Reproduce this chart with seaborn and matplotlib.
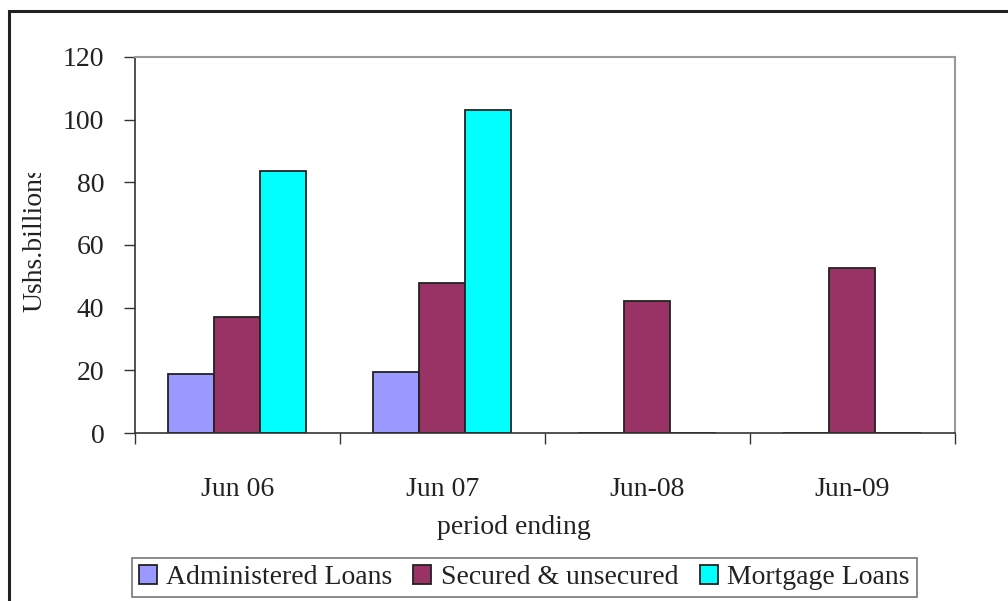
import matplotlib
matplotlib.use("Agg")
import matplotlib.pyplot as plt
from matplotlib.patches import Rectangle
from matplotlib.ticker import FixedLocator
from matplotlib.transforms import Bbox
import seaborn as sns
import pandas as pd

# Loan portfolio by period (Ushs billions)
periods = ["Jun 06", "Jun 07", "Jun-08", "Jun-09"]
series_names = ["Administered Loans", "Secured & unsecured", "Mortgage Loans"]
administered = [18.8, 19.5, 0, 0]
secured = [37.0, 47.9, 42.1, 52.7]
mortgage = [83.6, 103.1, 0, 0]
colors = ["#9999FF", "#993366", "#00FFFF"]
y_ticks = [0, 20, 40, 60, 80, 100, 120]

df = pd.DataFrame({
    "period": periods * 3,
    "series": [series_names[0]] * 4 + [series_names[1]] * 4 + [series_names[2]] * 4,
    "value": administered + secured + mortgage,
})

sns.set_theme(style="white")
plt.rcParams["font.family"] = ["Liberation Serif", "DejaVu Serif"]
plt.rcParams["text.color"] = "#222222"

FS = 20

fig = plt.figure(figsize=(10.08, 6.01), dpi=100)
ax = fig.add_axes([0.1339, 0.2795, 0.8135, 0.6257])

sns.barplot(data=df, x="period", y="value", hue="series", order=periods,
            hue_order=series_names, palette=colors, width=0.673, gap=0,
            edgecolor="#222222", linewidth=1.3, saturation=1, ax=ax, legend=True)

ax.set_ylim(0, 120)
ax.set_xlim(-0.5, 3.5)
ax.set_yticks(y_ticks)
ax.set_yticklabels([str(t) for t in y_ticks])
ax.tick_params(axis="y", which="major", direction="out", length=8, width=1,
               color="#333333", pad=14, labelsize=FS, labelcolor="#222222", left=True)
ax.set_xticks(range(len(periods)))
ax.set_xticklabels(periods)
ax.tick_params(axis="x", which="major", length=0, pad=32, labelsize=FS,
               labelcolor="#222222")
ax.xaxis.set_minor_locator(FixedLocator([-0.5, 0.5, 1.5, 2.5, 3.5]))
ax.tick_params(axis="x", which="minor", direction="out", length=8, width=1,
               color="#333333", bottom=True)

ax.set_xlabel("period ending", fontsize=FS, color="#222222", va="center")
ax.xaxis.set_label_coords(0.462, -0.251)
ax.set_ylabel("Ushs.billions", fontsize=FS, color="#222222", va="center")
ax.yaxis.set_label_coords(-0.122, 0.515)
# the rotated axis title runs past the top of its text box and is cut there
ylab = ax.yaxis.label
ylab.set_clip_box(Bbox.from_extents(0, 0, 1008, 601 - 173))
ylab.set_clip_on(True)

for side in ["left", "bottom"]:
    ax.spines[side].set_color("#333333")
    ax.spines[side].set_linewidth(1.2)
for side in ["top", "right"]:
    ax.spines[side].set_color("#999999")
    ax.spines[side].set_linewidth(1.5)
    ax.spines[side].set_visible(True)

handles, labels = ax.get_legend_handles_labels()
ax.get_legend().remove()
leg = fig.legend(handles, labels, loc="center", bbox_to_anchor=(0.52, 0.039),
                 ncol=3, fontsize=FS, frameon=True, fancybox=False,
                 edgecolor="#555555", handlelength=0.65, handleheight=0.65,
                 handletextpad=0.35, columnspacing=0.75, borderpad=0.25)
leg.get_frame().set_linewidth(1.2)

# Outer border around the chart
fig.patches.append(Rectangle((9 / 1008, -0.2), 1.2, 0.2 + (1 - 11 / 601),
                             transform=fig.transFigure, fill=False,
                             edgecolor="#222222", linewidth=2.2))

fig.savefig("out.png", dpi=100)
